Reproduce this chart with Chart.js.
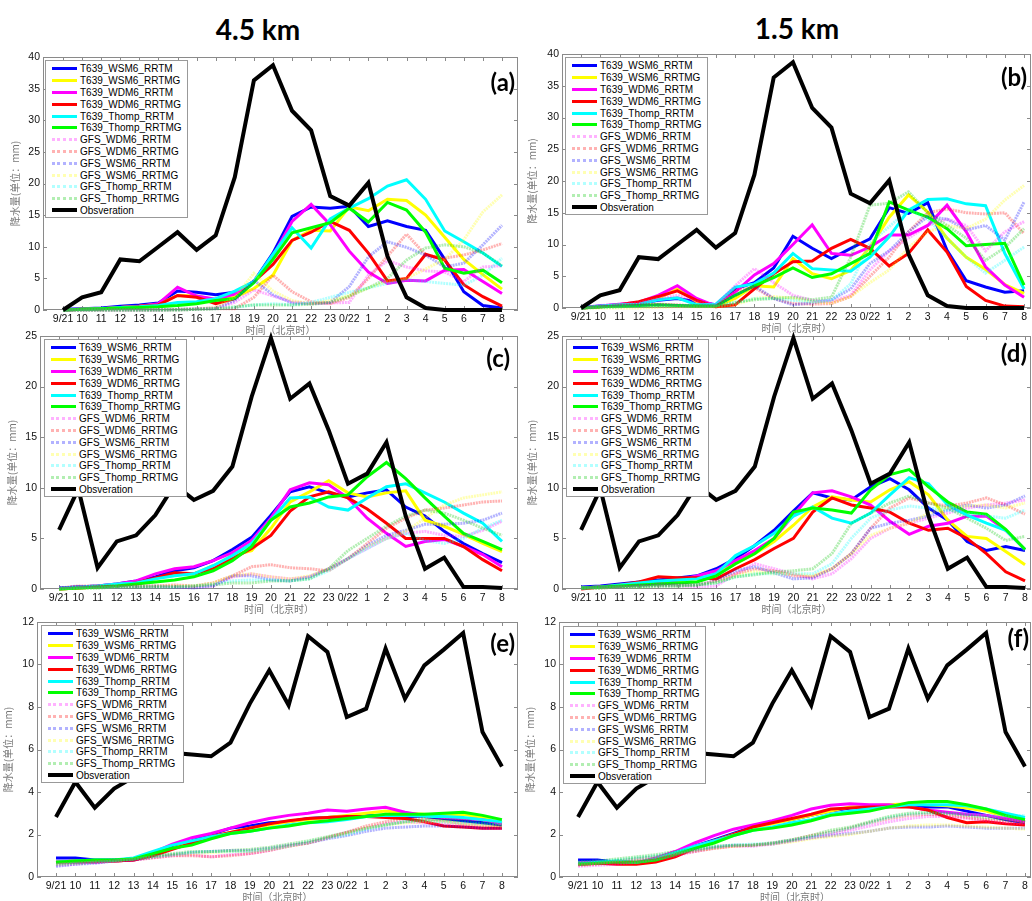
<!DOCTYPE html>
<html>
<head>
<meta charset="utf-8">
<script src="https://cdn.jsdelivr.net/npm/chart.js@4.4.1/dist/chart.umd.min.js"></script>
<style>
  body { margin: 0; background: #fff; }
  #fig { position: relative; width: 1032px; height: 901px; overflow: hidden; }
  .panel { position: absolute; }
  .col-title { position: absolute; font: 700 28px Lato, sans-serif; transform: translateX(-50%); white-space: nowrap; }
  .tag { position: absolute; width: 60px; text-align: right; font: 700 24px Lato, sans-serif; line-height: 24px; }
  .legend { position: absolute; border: 1px solid #999; background: #fff; padding: 2px 5px 1px 6px;
            font: 10px "Liberation Sans", Arial, sans-serif; color: #000; }
  .legend .row { display: flex; align-items: center; height: 11.8px; white-space: nowrap; }
  .legend .swatch { width: 25px; margin-right: 3px; }
</style>
</head>
<body>
<div id="fig">
  <div class="col-title" style="left:258px;top:12px;">4.5 km</div>
  <div class="col-title" style="left:797px;top:11px;">1.5 km</div>
</div>
<script>
// time axis (Beijing time)
const timeLabels = ['9/21','10','11','12','13','14','15','16','17','18','19','20','21','22','23','0/22','1','2','3','4','5','6','7','8'];

const t639Names = ['T639_WSM6_RRTM','T639_WSM6_RRTMG','T639_WDM6_RRTM','T639_WDM6_RRTMG','T639_Thomp_RRTM','T639_Thomp_RRTMG'];
const gfsNames = ['GFS_WDM6_RRTM','GFS_WDM6_RRTMG','GFS_WSM6_RRTM','GFS_WSM6_RRTMG','GFS_Thomp_RRTM','GFS_Thomp_RRTMG'];

// observations
const obsAB = [0,2.0,2.8,8.0,7.7,10.0,12.3,9.5,11.8,21.0,36.3,38.7,31.5,28.4,18.0,16.5,20.1,8.5,2.0,0.3,0,0,0,0];
const obsCD = [5.85,9.9,2.1,4.7,5.3,7.3,10.3,8.8,9.7,12.1,19.0,24.8,18.8,20.3,15.7,10.4,11.4,14.5,7.2,2.0,3.1,0.2,0.2,0.1];
const obsEF = [2.82,4.47,3.26,4.16,4.7,5.5,5.84,5.77,5.68,6.32,8.16,9.73,8.08,11.33,10.59,7.53,7.92,10.75,8.39,9.96,10.7,11.48,6.82,5.2];

// (a) 4.5 km
const t639A = [
  [0.1,0.2,0.3,0.6,0.8,1.1,3.0,2.8,2.4,2.8,4.5,9.0,14.8,16.3,16.1,16.4,13.2,14.1,13.2,12.6,8.0,2.9,0.7,0.3],
  [0,0.1,0.2,0.4,0.6,0.9,2.3,2.2,1.6,2.0,3.4,5.5,11.0,12.6,12.5,16.3,15.7,17.5,17.3,15.0,11.5,8.0,5.6,3.3],
  [0,0.1,0.2,0.4,0.6,1.0,3.6,2.2,1.7,2.5,4.5,8.5,14.0,16.7,13.5,9.3,6.0,4.2,4.7,4.6,6.3,6.4,4.5,2.6],
  [0,0.1,0.2,0.4,0.6,0.8,2.3,2.0,1.0,1.8,4.5,7.2,11.0,12.3,14.0,12.6,9.0,4.6,5.0,8.8,7.9,4.0,2.1,0.6],
  [0,0.1,0.2,0.4,0.5,0.7,1.2,1.3,1.8,3.0,4.5,8.8,13.0,9.8,14.4,16.1,17.6,19.6,20.6,17.5,12.5,10.8,9.0,6.9],
  [0,0.1,0.2,0.3,0.4,0.5,0.7,1.0,1.5,1.8,4.3,8.0,12.2,13.0,13.8,16.1,13.9,17.0,15.8,12.3,6.6,5.8,6.3,4.3]
];
const gfsA = [
  [0,0,0,0,0,0,0.1,0.2,0.3,1.2,3.2,2.2,1.3,1.0,1.1,1.2,5.5,7.8,6.8,6.2,6.0,4.5,6.8,7.0],
  [0,0,0,0,0,0,0,0.1,0.2,0.2,2.0,5.5,2.9,1.3,1.0,2.0,5.0,8.5,12.0,8.7,8.2,8.7,9.5,10.5],
  [0,0,0,0,0,0,0.1,0.2,0.3,1.5,4.7,2.4,1.1,1.0,1.2,3.7,8.4,10.8,9.9,8.7,6.8,7.4,10.3,13.4],
  [0,0,0,0,0,0,0.1,0.2,0.4,2.0,5.8,3.0,1.5,1.0,1.5,2.3,3.5,4.5,5.0,6.5,8.0,11.1,15.5,18.2],
  [0,0,0,0,0,0,0,0.1,0.2,0.4,0.8,1.0,0.8,1.2,2.0,2.8,3.5,4.2,4.8,4.5,4.2,3.9,5.5,8.2],
  [0,0,0,0,0,0,0,0.1,0.2,0.5,0.8,0.8,0.8,0.9,1.2,2.2,3.5,5.0,7.9,9.8,10.3,10.0,9.0,7.0]
];

// (b) 1.5 km
const t639B = [
  [0.1,0.3,0.5,0.7,1.2,1.5,1.0,0.5,3.0,4.0,6.3,11.3,9.4,7.8,9.4,10.9,15.8,14.9,16.6,9.1,4.3,3.3,2.5,2.7],
  [0,0.2,0.4,0.6,1.5,3.0,1.0,0.3,1.5,3.5,3.3,7.8,5.4,4.6,5.9,9.6,14.3,17.8,15.1,11.0,8.0,6.1,3.7,2.3],
  [0,0.3,0.6,0.9,2.0,3.5,1.5,0.3,2.5,5.2,7.0,10.0,13.1,8.6,8.3,9.6,11.5,11.5,13.0,16.2,12.0,6.5,3.6,1.7],
  [0,0.2,0.5,1.0,1.8,2.7,1.2,0.2,0.5,3.0,5.4,7.3,7.4,9.4,10.8,9.4,6.6,8.6,12.3,8.8,3.4,1.2,0.3,0.2],
  [0,0.3,0.5,0.6,1.3,1.6,0.5,0.6,3.3,3.8,5.5,8.6,6.2,6.0,5.8,8.0,11.2,15.4,17.1,17.2,16.4,16.1,8.6,3.0],
  [0,0.2,0.3,0.4,0.5,0.4,0.3,0.3,2.0,3.5,4.8,6.3,4.8,5.4,7.0,8.6,16.7,15.4,14.3,12.5,9.8,10.0,10.2,3.6]
];
const gfsB = [
  [0,0.4,0.6,0.8,1.5,2.0,1.0,0.5,3.5,6.2,4.0,2.0,1.2,1.0,2.0,6.0,9.0,11.0,13.0,14.0,13.0,9.0,12.0,13.6],
  [0,0.2,0.4,0.6,0.6,0.5,0.3,0.2,2.8,3.2,1.5,0.7,0.6,0.7,1.8,5.0,8.0,12.0,15.0,15.6,15.0,14.8,15.0,11.7],
  [0,0.2,0.3,0.4,0.5,0.4,0.3,0.3,2.0,3.5,1.5,0.5,0.8,1.3,3.0,7.0,9.0,12.0,14.4,14.0,12.3,13.0,10.7,16.7],
  [0,0,0,0,0.1,0.2,0.2,0.2,0.5,1.5,1.8,1.5,1.0,0.8,1.8,4.0,6.0,9.5,12.0,13.0,12.5,14.0,17.0,19.3],
  [0,0.1,0.2,0.3,0.4,0.4,0.3,0.3,0.8,1.5,1.5,1.2,1.0,1.2,3.8,10.2,12.8,15.5,14.0,11.0,8.0,5.5,7.5,9.6],
  [0,0.1,0.2,0.3,0.4,0.4,0.3,0.3,0.9,1.3,1.5,1.7,1.3,1.7,8.0,16.2,16.5,18.3,15.0,13.0,11.0,7.5,9.5,12.5]
];

// (c) 4.5 km
const t639C = [
  [0.1,0.2,0.3,0.5,0.8,1.2,1.8,2.1,2.8,3.9,5.1,7.3,9.6,10.1,9.5,9.1,9.5,9.8,8.1,7.2,5.7,4.5,3.5,2.6],
  [0,0.1,0.2,0.4,0.6,1.0,1.5,1.5,2.3,3.3,3.8,6.0,8.6,9.6,10.7,9.5,9.1,9.5,9.7,6.8,6.2,5.4,4.5,3.7],
  [0.1,0.2,0.3,0.5,0.8,1.5,2.0,2.2,2.8,3.6,4.8,7.0,9.8,10.5,10.3,9.0,7.0,5.5,4.2,4.7,4.9,4.2,3.4,2.2],
  [0,0.1,0.2,0.4,0.6,1.1,1.6,1.5,2.0,3.0,4.0,5.3,7.7,9.1,9.6,9.0,7.9,6.5,5.0,5.0,5.0,4.2,2.9,1.8],
  [0.1,0.2,0.3,0.5,0.6,1.0,1.3,1.5,2.3,3.3,4.5,6.8,9.0,9.1,8.1,7.8,9.0,10.1,10.4,9.5,8.6,7.5,6.5,4.7],
  [0,0.1,0.2,0.3,0.5,0.7,0.9,1.2,1.8,2.8,4.2,6.8,8.1,8.5,9.1,9.3,11.1,12.5,10.9,9.0,7.2,5.5,4.7,3.9]
];
const gfsC = [
  [0.1,0.2,0.2,0.2,0.2,0.2,0.2,0.2,0.3,1.2,1.5,1.2,1.0,1.2,2.0,3.0,4.0,5.0,5.5,5.7,5.3,5.2,5.8,6.7],
  [0.1,0.3,0.3,0.3,0.3,0.3,0.4,0.3,0.6,1.3,2.2,2.4,2.1,2.0,1.8,3.0,4.5,6.0,7.0,7.8,8.0,8.3,8.6,8.7],
  [0.1,0.2,0.2,0.2,0.2,0.3,0.2,0.1,0.3,1.3,1.3,0.9,0.8,1.2,2.0,3.0,4.3,5.3,5.8,6.4,6.4,6.5,6.8,7.5],
  [0,0.1,0.1,0.2,0.2,0.3,0.3,0.3,0.6,1.3,1.5,1.2,1.0,1.3,2.0,3.0,4.2,5.0,5.7,7.0,8.3,9.0,9.3,9.6],
  [0,0.1,0.1,0.2,0.2,0.2,0.2,0.3,0.5,0.8,0.9,0.9,0.8,1.0,1.8,3.0,4.0,5.0,5.5,4.8,4.5,5.0,6.0,6.8],
  [0,0.1,0.1,0.2,0.2,0.2,0.2,0.3,0.4,0.6,0.6,0.8,0.8,1.0,2.0,3.8,5.0,6.2,7.2,7.8,7.5,6.8,6.0,5.3]
];

// (d) 1.5 km
const t639D = [
  [0.2,0.3,0.5,0.7,0.9,1.1,1.3,2.0,3.0,4.3,5.8,7.7,9.5,9.0,8.8,10.1,10.9,9.8,8.0,6.8,4.7,3.8,4.2,3.8],
  [0.1,0.2,0.3,0.5,0.7,0.8,1.0,1.5,2.5,3.5,4.7,6.3,8.1,9.1,8.8,8.6,9.8,10.6,9.3,6.8,5.2,5.0,3.7,2.4],
  [0.1,0.2,0.3,0.5,0.7,0.9,1.3,1.8,2.8,3.8,5.0,7.3,9.5,9.7,9.1,8.3,6.7,5.4,6.2,6.5,7.2,7.2,5.8,3.9],
  [0,0.2,0.4,0.7,1.2,1.1,1.1,1.0,2.0,2.9,4.0,5.0,7.6,9.0,8.3,8.0,7.6,6.5,5.8,6.0,5.0,3.5,1.7,0.8],
  [0.1,0.2,0.4,0.6,0.8,0.9,1.0,1.5,3.3,4.3,5.5,7.2,8.1,7.0,6.5,7.5,9.3,11.0,10.4,8.3,7.3,6.5,5.8,3.9],
  [0.1,0.2,0.3,0.4,0.5,0.6,0.7,1.3,2.5,3.5,5.0,7.6,8.0,7.8,7.5,9.8,11.3,11.8,10.1,8.6,7.6,7.4,5.9,3.9]
];
const gfsD = [
  [0.1,0.2,0.2,0.3,0.3,0.3,0.2,0.3,1.5,2.5,2.0,1.5,1.0,1.5,3.0,5.0,6.0,6.5,7.0,7.5,8.0,8.3,8.5,8.8],
  [0.1,0.1,0.2,0.3,0.4,0.4,0.4,0.8,1.5,2.0,1.8,1.3,1.2,2.0,3.5,6.0,8.0,9.0,8.5,8.2,8.5,9.0,8.3,7.4],
  [0.1,0.2,0.2,0.3,0.4,0.4,0.4,0.8,1.8,2.2,1.6,1.0,1.1,2.0,3.5,6.0,6.5,6.8,7.2,7.8,8.3,8.0,8.3,9.2],
  [0.1,0.1,0.2,0.2,0.3,0.3,0.4,0.7,1.3,1.7,1.5,1.5,1.3,2.0,3.5,5.3,6.0,6.5,7.5,8.0,8.2,8.3,8.0,8.5],
  [0.1,0.1,0.2,0.2,0.3,0.3,0.4,0.6,1.2,1.5,1.5,1.5,1.5,2.5,5.0,7.0,7.8,8.2,8.0,7.8,7.5,7.2,7.0,7.8],
  [0.1,0.1,0.2,0.2,0.3,0.3,0.4,0.6,1.2,1.4,1.7,1.8,2.0,3.5,6.5,7.5,8.5,9.2,8.5,8.0,7.0,6.0,4.8,5.2]
];

// (e) 4.5 km
const t639E = [
  [0.9,0.9,0.8,0.8,0.85,1.1,1.45,1.7,2.0,2.3,2.4,2.55,2.6,2.75,2.8,2.85,2.9,2.9,2.85,2.85,2.75,2.65,2.55,2.45],
  [0.7,0.75,0.75,0.75,0.8,1.05,1.35,1.6,1.9,2.1,2.3,2.45,2.6,2.7,2.8,2.9,3.0,3.1,3.0,2.95,2.9,2.95,2.8,2.55],
  [0.7,0.7,0.7,0.75,0.8,1.15,1.55,1.85,2.05,2.3,2.55,2.75,2.9,3.0,3.15,3.1,3.2,3.28,3.05,2.9,2.8,2.75,2.7,2.5],
  [0.7,0.75,0.75,0.75,0.8,1.0,1.3,1.6,1.9,2.1,2.3,2.5,2.65,2.75,2.8,2.85,2.85,2.8,2.75,2.6,2.4,2.35,2.3,2.3],
  [0.7,0.75,0.8,0.8,0.9,1.2,1.5,1.7,1.9,2.05,2.15,2.3,2.45,2.55,2.6,2.7,2.85,2.9,2.9,2.85,2.85,2.8,2.7,2.6],
  [0.7,0.75,0.8,0.8,0.85,1.1,1.35,1.5,1.8,2.05,2.15,2.3,2.4,2.55,2.65,2.75,2.85,2.95,2.95,2.95,3.0,3.05,2.9,2.7]
];
const gfsE = [
  [0.55,0.6,0.7,0.75,0.8,0.9,1.0,1.05,0.95,1.05,1.1,1.25,1.45,1.6,1.85,2.1,2.3,2.5,2.6,2.55,2.5,2.4,2.3,2.3],
  [0.6,0.65,0.7,0.75,0.8,0.9,1.0,1.0,0.95,1.0,1.1,1.25,1.45,1.6,1.85,2.1,2.4,2.6,2.75,2.75,2.65,2.5,2.4,2.35],
  [0.5,0.6,0.65,0.75,0.8,0.95,1.05,1.15,1.2,1.25,1.25,1.35,1.5,1.6,1.8,1.95,2.15,2.3,2.35,2.4,2.4,2.35,2.3,2.3],
  [0.6,0.65,0.7,0.75,0.85,0.95,1.05,1.1,1.15,1.2,1.2,1.3,1.45,1.6,1.85,2.05,2.3,2.45,2.55,2.6,2.6,2.5,2.45,2.4],
  [0.6,0.65,0.7,0.75,0.85,0.95,1.05,1.15,1.2,1.2,1.2,1.3,1.45,1.65,1.85,2.0,2.25,2.45,2.6,2.65,2.6,2.55,2.5,2.5],
  [0.65,0.7,0.75,0.8,0.85,1.0,1.1,1.2,1.2,1.25,1.3,1.4,1.55,1.7,1.9,2.1,2.3,2.45,2.6,2.7,2.7,2.65,2.55,2.45]
];

// (f) 1.5 km
const t639F = [
  [0.8,0.8,0.7,0.65,0.8,1.1,1.45,1.75,2.05,2.35,2.55,2.7,2.9,3.1,3.25,3.3,3.35,3.35,3.3,3.3,3.1,2.9,2.7,2.55],
  [0.6,0.65,0.7,0.7,0.8,1.1,1.4,1.7,2.0,2.3,2.5,2.7,2.9,3.1,3.3,3.35,3.4,3.45,3.4,3.35,3.25,3.1,2.85,2.6],
  [0.65,0.7,0.65,0.65,0.9,1.2,1.6,1.95,2.25,2.45,2.65,2.9,3.2,3.38,3.45,3.4,3.4,3.3,3.15,3.05,2.95,2.9,2.75,2.6],
  [0.6,0.65,0.6,0.6,0.7,0.95,1.35,1.7,2.0,2.35,2.55,2.75,2.95,3.2,3.25,3.3,3.3,3.3,3.15,2.8,2.55,2.6,2.5,2.45],
  [0.6,0.7,0.75,0.7,0.85,1.15,1.45,1.7,1.95,2.2,2.35,2.55,2.7,2.95,3.1,3.2,3.3,3.4,3.4,3.4,3.35,3.2,3.0,2.8],
  [0.6,0.65,0.7,0.7,0.8,1.05,1.35,1.6,1.95,2.2,2.3,2.45,2.65,2.9,3.0,3.1,3.3,3.5,3.55,3.55,3.4,3.2,2.9,2.7]
];
const gfsF = [
  [0.5,0.55,0.6,0.7,0.85,1.0,1.2,1.35,1.45,1.45,1.55,1.7,1.85,2.0,2.2,2.4,2.6,2.75,2.85,2.85,2.75,2.65,2.55,2.5],
  [0.55,0.6,0.7,0.8,0.9,1.05,1.2,1.35,1.45,1.5,1.6,1.75,1.95,2.1,2.3,2.55,2.75,2.9,2.95,2.9,2.8,2.7,2.6,2.55],
  [0.6,0.65,0.75,0.85,0.95,1.1,1.25,1.4,1.5,1.5,1.55,1.7,1.85,1.95,2.05,2.15,2.3,2.35,2.35,2.4,2.35,2.3,2.3,2.3],
  [0.6,0.65,0.75,0.85,0.95,1.1,1.25,1.35,1.45,1.5,1.55,1.65,1.8,1.9,2.0,2.15,2.3,2.4,2.45,2.45,2.4,2.35,2.3,2.25],
  [0.7,0.75,0.8,0.9,1.0,1.15,1.3,1.4,1.5,1.55,1.6,1.75,1.9,2.1,2.3,2.55,2.8,2.95,3.0,3.0,2.95,2.9,2.85,2.9],
  [0.7,0.75,0.85,0.95,1.05,1.2,1.3,1.45,1.5,1.5,1.6,1.75,1.95,2.2,2.35,2.6,2.85,3.0,3.05,3.0,2.9,2.8,2.7,2.6]
];

const t639Colors = ['#0000ff','#ffff00','#ff00ff','#ff0000','#00ffff','#00ff00'];
const gfsColors = ['rgba(255,0,255,0.3)','rgba(255,0,0,0.3)','rgba(0,0,255,0.3)','rgba(255,255,0,0.3)','rgba(0,255,255,0.3)','rgba(0,200,0,0.3)'];

// panel placement: plot-area rect [left, top, right, bottom] in page pixels
const panels = [
  { id: 'a', t639: t639A, gfs: gfsA, obs: obsAB, yMax: 40, yStep: 5, rect: [43, 57, 518, 310], xMin: -1.05, xMax: 23.84, yTitle: 15, legend: [45, 60], tag: [515, 70] },
  { id: 'b', t639: t639B, gfs: gfsB, obs: obsAB, yMax: 40, yStep: 5, rect: [562, 54, 1031, 308], xMin: -0.99, xMax: 23.36, yTitle: 12, legend: [565, 57], tag: [1027, 65] },
  { id: 'c', t639: t639C, gfs: gfsC, obs: obsCD, yMax: 25, yStep: 5, rect: [40, 336, 518, 589], xMin: -0.99, xMax: 23.83, yTitle: 12, legend: [44, 339], tag: [510, 346] },
  { id: 'd', t639: t639D, gfs: gfsD, obs: obsCD, yMax: 25, yStep: 5, rect: [562, 336, 1031, 589], xMin: -0.99, xMax: 23.31, yTitle: 12, legend: [566, 339], tag: [1027, 341] },
  { id: 'e', t639: t639E, gfs: gfsE, obs: obsEF, yMax: 12, yStep: 2, rect: [37, 622, 518, 877], xMin: -0.98, xMax: 23.83, yTitle: 8, legend: [41, 625], tag: [515, 631] },
  { id: 'f', t639: t639F, gfs: gfsF, obs: obsEF, yMax: 12, yStep: 2, rect: [559, 622, 1031, 877], xMin: -0.98, xMax: 23.31, yTitle: 10, legend: [563, 626], tag: [1029, 626] }
];

// box with inward ticks on all four sides (MATLAB style)
const framePlugin = {
  id: 'frame',
  beforeDatasetsDraw(chart) {
    const { ctx, chartArea: a, scales: { x, y } } = chart;
    ctx.save();
    ctx.strokeStyle = '#8a8a8a';
    ctx.lineWidth = 1;
    ctx.strokeRect(a.left + 0.5, a.top + 0.5, a.right - a.left - 1, a.bottom - a.top - 1);
    ctx.beginPath();
    timeLabels.forEach((_, i) => {
      const px = Math.round(x.getPixelForValue(i)) + 0.5;
      ctx.moveTo(px, a.bottom); ctx.lineTo(px, a.bottom - 4);
      ctx.moveTo(px, a.top); ctx.lineTo(px, a.top + 4);
    });
    y.ticks.forEach(t => {
      const py = Math.round(y.getPixelForValue(t.value)) + 0.5;
      ctx.moveTo(a.left, py); ctx.lineTo(a.left + 4, py);
      ctx.moveTo(a.right, py); ctx.lineTo(a.right - 4, py);
    });
    ctx.stroke();
    ctx.restore();
  }
};

// HTML legend built from the chart's datasets
const htmlLegendPlugin = {
  id: 'htmlLegend',
  afterUpdate(chart, args, opts) {
    const box = opts.box;
    box.innerHTML = '';
    chart.data.datasets.forEach(ds => {
      const row = document.createElement('div');
      row.className = 'row';
      const sw = document.createElement('div');
      sw.className = 'swatch';
      sw.style.borderTop = ds.legendLine;
      const txt = document.createElement('span');
      txt.textContent = ds.label;
      row.appendChild(sw);
      row.appendChild(txt);
      box.appendChild(row);
    });
  }
};

const fig = document.getElementById('fig');
const tickFont = { family: '"Liberation Sans", Arial, sans-serif', size: 10.5 };
const titleFont = { family: '"Noto Sans CJK SC", sans-serif', size: 10 };

panels.forEach(p => {
  const [l, t, r, b] = p.rect;
  const left = l < 520 ? 0 : 520;
  const width = l < 520 ? 522 : 512;
  const top = t - 10;
  const height = b - top + 30;

  const holder = document.createElement('div');
  holder.className = 'panel';
  holder.style.left = left + 'px';
  holder.style.top = top + 'px';
  const canvas = document.createElement('canvas');
  canvas.width = width;
  canvas.height = height;
  holder.appendChild(canvas);
  fig.appendChild(holder);

  const legendBox = document.createElement('div');
  legendBox.className = 'legend';
  legendBox.style.left = p.legend[0] + 'px';
  legendBox.style.top = p.legend[1] + 'px';

  const pts = arr => arr.map((v, i) => ({ x: i, y: v }));
  const datasets = [];
  t639Names.forEach((name, k) => datasets.push({
    label: name, data: pts(p.t639[k]), borderColor: t639Colors[k], borderWidth: 3,
    legendLine: '3px solid ' + t639Colors[k]
  }));
  gfsNames.forEach((name, k) => datasets.push({
    label: name, data: pts(p.gfs[k]), borderColor: gfsColors[k], borderWidth: 3, borderDash: [2, 0.8],
    legendLine: '3px dotted ' + gfsColors[k]
  }));
  datasets.push({ label: 'Obsveration', data: pts(p.obs), borderColor: '#000', borderWidth: 4, legendLine: '4px solid #000' });
  // first plotted lies underneath, as in the original
  datasets.forEach((ds, i) => { ds.order = datasets.length - i; ds.pointRadius = 0; ds.clip = false; });

  new Chart(canvas.getContext('2d'), {
    type: 'line',
    data: { datasets },
    plugins: [framePlugin, htmlLegendPlugin],
    options: {
      responsive: false,
      animation: false,
      layout: { padding: { top: t - top, right: left + width - r, left: 0, bottom: 0 } },
      plugins: { legend: { display: false }, tooltip: { enabled: false }, htmlLegend: { box: legendBox } },
      scales: {
        x: {
          type: 'linear', min: p.xMin, max: p.xMax,
          afterBuildTicks: s => { s.ticks = timeLabels.map((_, i) => ({ value: i })); },
          afterFit: s => { s.height = 30; },
          ticks: { callback: v => timeLabels[v], autoSkip: false, maxRotation: 0, minRotation: 0, padding: 3, color: '#111', font: tickFont },
          grid: { display: false, drawTicks: false }, border: { display: false },
          title: { display: true, text: '时间（北京时）', color: '#777', font: titleFont, padding: { top: 0, bottom: 4 } }
        },
        y: {
          min: 0, max: p.yMax,
          afterFit: s => { s.width = l - left; },
          ticks: { stepSize: p.yStep, padding: 3, color: '#111', font: tickFont },
          grid: { display: false, drawTicks: false }, border: { display: false },
          title: { display: true, text: '降水量(单位：mm)', color: '#777', font: titleFont, padding: { top: p.yTitle - 6, bottom: 0 } }
        }
      }
    }
  });
  fig.appendChild(legendBox);

  const tag = document.createElement('div');
  tag.className = 'tag';
  tag.style.left = (p.tag[0] - 60) + 'px';
  tag.style.top = p.tag[1] + 'px';
  tag.textContent = '(' + p.id + ')';
  fig.appendChild(tag);
});
</script>
</body>
</html>
